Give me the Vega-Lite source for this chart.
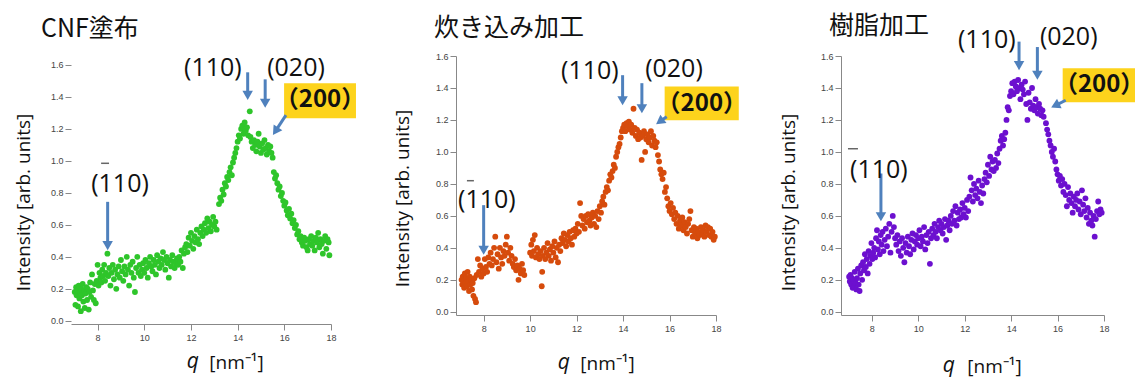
{
"$schema":"https://vega.github.io/schema/vega-lite/v6.json",
"padding":{"left":14,"top":13,"right":0,"bottom":0},
"bounds":"flush",
"spacing":125,
"datasets":{
"p1":[{"q":7.02,"I":0.18},{"q":7.05,"I":0.10},{"q":7.08,"I":0.21},{"q":7.10,"I":0.16},{"q":7.13,"I":0.19},{"q":7.16,"I":0.09},{"q":7.19,"I":0.22},{"q":7.22,"I":0.14},{"q":7.25,"I":0.18},{"q":7.28,"I":0.06},{"q":7.30,"I":0.20},{"q":7.33,"I":0.16},{"q":7.36,"I":0.23},{"q":7.39,"I":0.12},{"q":7.42,"I":0.19},{"q":7.45,"I":0.08},{"q":7.48,"I":0.17},{"q":7.52,"I":0.21},{"q":7.55,"I":0.13},{"q":7.58,"I":0.20},{"q":7.62,"I":0.07},{"q":7.65,"I":0.18},{"q":7.68,"I":0.24},{"q":7.72,"I":0.15},{"q":7.76,"I":0.29},{"q":7.80,"I":0.19},{"q":7.84,"I":0.13},{"q":7.88,"I":0.23},{"q":7.92,"I":0.11},{"q":7.96,"I":0.25},{"q":8.00,"I":0.35},{"q":8.04,"I":0.22},{"q":8.08,"I":0.30},{"q":8.12,"I":0.27},{"q":8.16,"I":0.24},{"q":8.20,"I":0.32},{"q":8.24,"I":0.28},{"q":8.28,"I":0.35},{"q":8.32,"I":0.25},{"q":8.36,"I":0.30},{"q":8.42,"I":0.42},{"q":8.46,"I":0.28},{"q":8.50,"I":0.33},{"q":8.55,"I":0.22},{"q":8.60,"I":0.30},{"q":8.65,"I":0.35},{"q":8.70,"I":0.26},{"q":8.75,"I":0.32},{"q":8.80,"I":0.20},{"q":8.85,"I":0.29},{"q":8.90,"I":0.34},{"q":8.95,"I":0.27},{"q":9.00,"I":0.38},{"q":9.05,"I":0.31},{"q":9.10,"I":0.25},{"q":9.15,"I":0.34},{"q":9.20,"I":0.29},{"q":9.25,"I":0.40},{"q":9.30,"I":0.32},{"q":9.35,"I":0.22},{"q":9.40,"I":0.35},{"q":9.45,"I":0.30},{"q":9.50,"I":0.37},{"q":9.55,"I":0.27},{"q":9.60,"I":0.18},{"q":9.65,"I":0.33},{"q":9.70,"I":0.40},{"q":9.75,"I":0.30},{"q":9.80,"I":0.35},{"q":9.85,"I":0.28},{"q":9.90,"I":0.32},{"q":9.95,"I":0.36},{"q":10.00,"I":0.30},{"q":10.05,"I":0.38},{"q":10.10,"I":0.33},{"q":10.15,"I":0.27},{"q":10.20,"I":0.36},{"q":10.25,"I":0.40},{"q":10.30,"I":0.34},{"q":10.35,"I":0.31},{"q":10.40,"I":0.38},{"q":10.45,"I":0.35},{"q":10.50,"I":0.29},{"q":10.55,"I":0.41},{"q":10.60,"I":0.37},{"q":10.65,"I":0.33},{"q":10.70,"I":0.39},{"q":10.75,"I":0.35},{"q":10.80,"I":0.43},{"q":10.85,"I":0.38},{"q":10.90,"I":0.32},{"q":10.95,"I":0.40},{"q":11.00,"I":0.36},{"q":11.05,"I":0.27},{"q":11.10,"I":0.38},{"q":11.15,"I":0.34},{"q":11.20,"I":0.41},{"q":11.25,"I":0.37},{"q":11.30,"I":0.33},{"q":11.35,"I":0.36},{"q":11.40,"I":0.39},{"q":11.45,"I":0.35},{"q":11.50,"I":0.40},{"q":11.55,"I":0.37},{"q":11.60,"I":0.44},{"q":11.65,"I":0.33},{"q":11.70,"I":0.42},{"q":11.75,"I":0.46},{"q":11.80,"I":0.48},{"q":11.85,"I":0.43},{"q":11.90,"I":0.52},{"q":11.95,"I":0.47},{"q":12.00,"I":0.55},{"q":12.05,"I":0.50},{"q":12.10,"I":0.45},{"q":12.15,"I":0.53},{"q":12.20,"I":0.49},{"q":12.25,"I":0.57},{"q":12.30,"I":0.51},{"q":12.35,"I":0.48},{"q":12.40,"I":0.55},{"q":12.45,"I":0.59},{"q":12.50,"I":0.53},{"q":12.55,"I":0.57},{"q":12.60,"I":0.61},{"q":12.65,"I":0.55},{"q":12.70,"I":0.64},{"q":12.75,"I":0.58},{"q":12.80,"I":0.62},{"q":12.85,"I":0.56},{"q":12.90,"I":0.60},{"q":12.95,"I":0.65},{"q":13.00,"I":0.59},{"q":13.05,"I":0.62},{"q":13.10,"I":0.57},{"q":13.20,"I":0.73},{"q":13.25,"I":0.77},{"q":13.30,"I":0.75},{"q":13.35,"I":0.82},{"q":13.40,"I":0.79},{"q":13.45,"I":0.86},{"q":13.50,"I":0.84},{"q":13.55,"I":0.90},{"q":13.60,"I":0.88},{"q":13.65,"I":0.93},{"q":13.70,"I":0.96},{"q":13.75,"I":0.91},{"q":13.80,"I":0.99},{"q":13.85,"I":1.02},{"q":13.90,"I":1.05},{"q":13.95,"I":1.08},{"q":14.00,"I":1.12},{"q":14.05,"I":1.16},{"q":14.10,"I":1.14},{"q":14.15,"I":1.20},{"q":14.20,"I":1.22},{"q":14.25,"I":1.17},{"q":14.30,"I":1.24},{"q":14.35,"I":1.19},{"q":14.40,"I":1.21},{"q":14.45,"I":1.16},{"q":14.52,"I":1.31},{"q":14.55,"I":1.15},{"q":14.60,"I":1.12},{"q":14.65,"I":1.08},{"q":14.70,"I":1.13},{"q":14.75,"I":1.10},{"q":14.80,"I":1.06},{"q":14.85,"I":1.12},{"q":14.90,"I":1.17},{"q":14.95,"I":1.09},{"q":15.00,"I":1.05},{"q":15.05,"I":1.11},{"q":15.10,"I":1.07},{"q":15.15,"I":1.13},{"q":15.20,"I":1.08},{"q":15.25,"I":1.04},{"q":15.30,"I":1.10},{"q":15.35,"I":1.06},{"q":15.40,"I":1.09},{"q":15.45,"I":1.05},{"q":15.50,"I":1.02},{"q":15.55,"I":0.93},{"q":15.60,"I":0.89},{"q":15.65,"I":0.91},{"q":15.70,"I":0.86},{"q":15.75,"I":0.82},{"q":15.80,"I":0.84},{"q":15.85,"I":0.78},{"q":15.90,"I":0.80},{"q":15.95,"I":0.75},{"q":16.00,"I":0.72},{"q":16.05,"I":0.74},{"q":16.10,"I":0.69},{"q":16.15,"I":0.66},{"q":16.20,"I":0.70},{"q":16.25,"I":0.64},{"q":16.30,"I":0.67},{"q":16.35,"I":0.61},{"q":16.40,"I":0.63},{"q":16.45,"I":0.58},{"q":16.50,"I":0.60},{"q":16.55,"I":0.54},{"q":16.60,"I":0.56},{"q":16.65,"I":0.51},{"q":16.70,"I":0.53},{"q":16.75,"I":0.49},{"q":16.80,"I":0.47},{"q":16.85,"I":0.52},{"q":16.90,"I":0.50},{"q":16.95,"I":0.46},{"q":17.00,"I":0.44},{"q":17.05,"I":0.51},{"q":17.10,"I":0.48},{"q":17.15,"I":0.53},{"q":17.20,"I":0.47},{"q":17.25,"I":0.50},{"q":17.30,"I":0.44},{"q":17.35,"I":0.52},{"q":17.40,"I":0.49},{"q":17.45,"I":0.55},{"q":17.50,"I":0.46},{"q":17.55,"I":0.51},{"q":17.60,"I":0.48},{"q":17.65,"I":0.42},{"q":17.70,"I":0.50},{"q":17.75,"I":0.53},{"q":17.80,"I":0.45},{"q":17.85,"I":0.51},{"q":17.90,"I":0.49},{"q":17.93,"I":0.41}],
"p2":[{"q":7.05,"I":0.20},{"q":7.08,"I":0.17},{"q":7.10,"I":0.22},{"q":7.13,"I":0.19},{"q":7.16,"I":0.15},{"q":7.19,"I":0.24},{"q":7.22,"I":0.18},{"q":7.25,"I":0.21},{"q":7.28,"I":0.16},{"q":7.31,"I":0.25},{"q":7.34,"I":0.19},{"q":7.37,"I":0.13},{"q":7.40,"I":0.22},{"q":7.43,"I":0.17},{"q":7.46,"I":0.20},{"q":7.50,"I":0.14},{"q":7.53,"I":0.18},{"q":7.56,"I":0.10},{"q":7.60,"I":0.21},{"q":7.63,"I":0.08},{"q":7.67,"I":0.06},{"q":7.70,"I":0.23},{"q":7.75,"I":0.33},{"q":7.80,"I":0.25},{"q":7.85,"I":0.29},{"q":7.90,"I":0.22},{"q":7.95,"I":0.27},{"q":8.00,"I":0.24},{"q":8.05,"I":0.33},{"q":8.10,"I":0.28},{"q":8.15,"I":0.25},{"q":8.20,"I":0.34},{"q":8.25,"I":0.30},{"q":8.30,"I":0.37},{"q":8.35,"I":0.29},{"q":8.40,"I":0.33},{"q":8.45,"I":0.40},{"q":8.50,"I":0.47},{"q":8.55,"I":0.31},{"q":8.60,"I":0.36},{"q":8.65,"I":0.27},{"q":8.70,"I":0.40},{"q":8.75,"I":0.34},{"q":8.80,"I":0.30},{"q":8.85,"I":0.38},{"q":8.90,"I":0.35},{"q":8.95,"I":0.42},{"q":9.00,"I":0.47},{"q":9.05,"I":0.37},{"q":9.10,"I":0.32},{"q":9.15,"I":0.40},{"q":9.20,"I":0.35},{"q":9.25,"I":0.30},{"q":9.30,"I":0.28},{"q":9.35,"I":0.33},{"q":9.40,"I":0.26},{"q":9.45,"I":0.29},{"q":9.50,"I":0.20},{"q":9.55,"I":0.27},{"q":9.60,"I":0.24},{"q":9.65,"I":0.30},{"q":9.70,"I":0.26},{"q":9.75,"I":0.23},{"q":10.00,"I":0.37},{"q":10.05,"I":0.42},{"q":10.08,"I":0.35},{"q":10.12,"I":0.45},{"q":10.16,"I":0.38},{"q":10.20,"I":0.48},{"q":10.25,"I":0.34},{"q":10.30,"I":0.40},{"q":10.35,"I":0.36},{"q":10.40,"I":0.33},{"q":10.45,"I":0.38},{"q":10.50,"I":0.16},{"q":10.52,"I":0.25},{"q":10.55,"I":0.35},{"q":10.60,"I":0.40},{"q":10.65,"I":0.33},{"q":10.70,"I":0.37},{"q":10.75,"I":0.43},{"q":10.80,"I":0.35},{"q":10.85,"I":0.39},{"q":10.90,"I":0.32},{"q":10.95,"I":0.41},{"q":11.00,"I":0.37},{"q":11.05,"I":0.44},{"q":11.10,"I":0.34},{"q":11.15,"I":0.40},{"q":11.20,"I":0.31},{"q":11.25,"I":0.42},{"q":11.30,"I":0.38},{"q":11.35,"I":0.46},{"q":11.40,"I":0.43},{"q":11.45,"I":0.49},{"q":11.50,"I":0.45},{"q":11.55,"I":0.41},{"q":11.60,"I":0.48},{"q":11.65,"I":0.44},{"q":11.70,"I":0.50},{"q":11.75,"I":0.46},{"q":11.80,"I":0.42},{"q":11.85,"I":0.51},{"q":11.90,"I":0.47},{"q":11.95,"I":0.52},{"q":12.00,"I":0.49},{"q":12.05,"I":0.55},{"q":12.10,"I":0.50},{"q":12.15,"I":0.68},{"q":12.20,"I":0.60},{"q":12.25,"I":0.54},{"q":12.30,"I":0.58},{"q":12.35,"I":0.52},{"q":12.40,"I":0.60},{"q":12.45,"I":0.56},{"q":12.50,"I":0.61},{"q":12.55,"I":0.57},{"q":12.60,"I":0.54},{"q":12.65,"I":0.59},{"q":12.70,"I":0.62},{"q":12.75,"I":0.55},{"q":12.80,"I":0.60},{"q":12.85,"I":0.53},{"q":12.90,"I":0.63},{"q":12.95,"I":0.58},{"q":13.00,"I":0.66},{"q":13.05,"I":0.62},{"q":13.10,"I":0.69},{"q":13.15,"I":0.72},{"q":13.20,"I":0.67},{"q":13.25,"I":0.75},{"q":13.30,"I":0.78},{"q":13.35,"I":0.76},{"q":13.40,"I":0.82},{"q":13.45,"I":0.86},{"q":13.50,"I":0.84},{"q":13.55,"I":0.88},{"q":13.60,"I":0.92},{"q":13.65,"I":0.90},{"q":13.70,"I":0.97},{"q":13.75,"I":1.00},{"q":13.80,"I":1.03},{"q":13.85,"I":1.05},{"q":13.90,"I":1.09},{"q":13.95,"I":1.13},{"q":14.00,"I":1.15},{"q":14.05,"I":1.17},{"q":14.10,"I":1.13},{"q":14.15,"I":1.18},{"q":14.20,"I":1.16},{"q":14.25,"I":1.19},{"q":14.30,"I":1.14},{"q":14.35,"I":1.17},{"q":14.40,"I":1.12},{"q":14.45,"I":1.27},{"q":14.50,"I":1.15},{"q":14.55,"I":1.10},{"q":14.60,"I":1.14},{"q":14.65,"I":1.08},{"q":14.70,"I":1.12},{"q":14.75,"I":1.09},{"q":14.80,"I":0.95},{"q":14.85,"I":1.10},{"q":14.90,"I":1.13},{"q":14.95,"I":1.00},{"q":15.00,"I":1.08},{"q":15.05,"I":1.11},{"q":15.10,"I":1.06},{"q":15.15,"I":1.09},{"q":15.20,"I":1.13},{"q":15.25,"I":1.04},{"q":15.30,"I":1.10},{"q":15.35,"I":1.07},{"q":15.40,"I":1.03},{"q":15.45,"I":1.06},{"q":15.50,"I":0.98},{"q":15.55,"I":0.94},{"q":15.60,"I":0.89},{"q":15.65,"I":0.86},{"q":15.70,"I":0.83},{"q":15.75,"I":0.87},{"q":15.80,"I":0.75},{"q":15.85,"I":0.78},{"q":15.90,"I":0.71},{"q":15.95,"I":0.66},{"q":16.00,"I":0.63},{"q":16.05,"I":0.68},{"q":16.10,"I":0.61},{"q":16.15,"I":0.65},{"q":16.20,"I":0.58},{"q":16.25,"I":0.62},{"q":16.30,"I":0.55},{"q":16.35,"I":0.60},{"q":16.40,"I":0.52},{"q":16.45,"I":0.57},{"q":16.50,"I":0.54},{"q":16.55,"I":0.59},{"q":16.60,"I":0.51},{"q":16.65,"I":0.56},{"q":16.70,"I":0.53},{"q":16.75,"I":0.49},{"q":16.80,"I":0.55},{"q":16.85,"I":0.58},{"q":16.90,"I":0.63},{"q":16.95,"I":0.51},{"q":17.00,"I":0.47},{"q":17.05,"I":0.53},{"q":17.10,"I":0.49},{"q":17.15,"I":0.52},{"q":17.20,"I":0.46},{"q":17.25,"I":0.50},{"q":17.30,"I":0.48},{"q":17.35,"I":0.53},{"q":17.40,"I":0.49},{"q":17.45,"I":0.51},{"q":17.50,"I":0.47},{"q":17.55,"I":0.54},{"q":17.60,"I":0.50},{"q":17.65,"I":0.53},{"q":17.70,"I":0.48},{"q":17.75,"I":0.52},{"q":17.80,"I":0.47},{"q":17.85,"I":0.50},{"q":17.90,"I":0.45},{"q":17.95,"I":0.47}],
"p3":[{"q":7.02,"I":0.22},{"q":7.05,"I":0.19},{"q":7.08,"I":0.23},{"q":7.11,"I":0.17},{"q":7.14,"I":0.21},{"q":7.17,"I":0.15},{"q":7.20,"I":0.20},{"q":7.23,"I":0.16},{"q":7.26,"I":0.25},{"q":7.30,"I":0.18},{"q":7.33,"I":0.14},{"q":7.36,"I":0.21},{"q":7.40,"I":0.27},{"q":7.43,"I":0.17},{"q":7.47,"I":0.13},{"q":7.50,"I":0.24},{"q":7.54,"I":0.29},{"q":7.58,"I":0.20},{"q":7.62,"I":0.31},{"q":7.66,"I":0.26},{"q":7.70,"I":0.36},{"q":7.74,"I":0.28},{"q":7.78,"I":0.33},{"q":7.82,"I":0.24},{"q":7.86,"I":0.38},{"q":7.90,"I":0.30},{"q":7.94,"I":0.35},{"q":7.98,"I":0.43},{"q":8.02,"I":0.33},{"q":8.06,"I":0.37},{"q":8.10,"I":0.40},{"q":8.14,"I":0.34},{"q":8.18,"I":0.46},{"q":8.22,"I":0.51},{"q":8.26,"I":0.39},{"q":8.30,"I":0.44},{"q":8.34,"I":0.36},{"q":8.38,"I":0.48},{"q":8.42,"I":0.42},{"q":8.46,"I":0.50},{"q":8.50,"I":0.38},{"q":8.55,"I":0.45},{"q":8.60,"I":0.52},{"q":8.65,"I":0.41},{"q":8.70,"I":0.47},{"q":8.75,"I":0.55},{"q":8.80,"I":0.37},{"q":8.85,"I":0.50},{"q":8.90,"I":0.60},{"q":8.95,"I":0.53},{"q":9.00,"I":0.46},{"q":9.05,"I":0.42},{"q":9.10,"I":0.48},{"q":9.15,"I":0.38},{"q":9.20,"I":0.44},{"q":9.25,"I":0.35},{"q":9.30,"I":0.46},{"q":9.35,"I":0.40},{"q":9.40,"I":0.31},{"q":9.45,"I":0.43},{"q":9.50,"I":0.37},{"q":9.55,"I":0.47},{"q":9.60,"I":0.41},{"q":9.65,"I":0.36},{"q":9.70,"I":0.45},{"q":9.75,"I":0.49},{"q":9.80,"I":0.39},{"q":9.85,"I":0.44},{"q":9.90,"I":0.48},{"q":9.95,"I":0.42},{"q":10.00,"I":0.46},{"q":10.05,"I":0.51},{"q":10.10,"I":0.41},{"q":10.15,"I":0.47},{"q":10.20,"I":0.44},{"q":10.25,"I":0.53},{"q":10.30,"I":0.39},{"q":10.35,"I":0.48},{"q":10.40,"I":0.43},{"q":10.45,"I":0.50},{"q":10.50,"I":0.30},{"q":10.55,"I":0.46},{"q":10.60,"I":0.52},{"q":10.65,"I":0.48},{"q":10.70,"I":0.55},{"q":10.75,"I":0.50},{"q":10.80,"I":0.46},{"q":10.85,"I":0.53},{"q":10.90,"I":0.57},{"q":10.95,"I":0.51},{"q":11.00,"I":0.55},{"q":11.05,"I":0.49},{"q":11.10,"I":0.53},{"q":11.15,"I":0.58},{"q":11.20,"I":0.45},{"q":11.25,"I":0.54},{"q":11.30,"I":0.57},{"q":11.35,"I":0.51},{"q":11.40,"I":0.60},{"q":11.45,"I":0.55},{"q":11.50,"I":0.63},{"q":11.55,"I":0.57},{"q":11.60,"I":0.66},{"q":11.65,"I":0.54},{"q":11.70,"I":0.62},{"q":11.75,"I":0.58},{"q":11.80,"I":0.64},{"q":11.85,"I":0.59},{"q":11.90,"I":0.68},{"q":11.95,"I":0.61},{"q":12.00,"I":0.65},{"q":12.05,"I":0.59},{"q":12.10,"I":0.70},{"q":12.15,"I":0.63},{"q":12.20,"I":0.72},{"q":12.25,"I":0.84},{"q":12.30,"I":0.76},{"q":12.35,"I":0.69},{"q":12.40,"I":0.80},{"q":12.45,"I":0.73},{"q":12.50,"I":0.77},{"q":12.55,"I":0.71},{"q":12.60,"I":0.82},{"q":12.65,"I":0.75},{"q":12.70,"I":0.68},{"q":12.75,"I":0.79},{"q":12.80,"I":0.74},{"q":12.85,"I":0.83},{"q":12.90,"I":0.87},{"q":12.95,"I":0.81},{"q":13.00,"I":0.92},{"q":13.05,"I":0.85},{"q":13.10,"I":0.97},{"q":13.15,"I":0.89},{"q":13.20,"I":0.94},{"q":13.25,"I":0.88},{"q":13.30,"I":0.95},{"q":13.35,"I":0.90},{"q":13.40,"I":0.99},{"q":13.45,"I":0.93},{"q":13.50,"I":1.02},{"q":13.55,"I":1.07},{"q":13.60,"I":1.10},{"q":13.65,"I":1.04},{"q":13.70,"I":1.08},{"q":13.75,"I":1.12},{"q":13.80,"I":1.20},{"q":13.85,"I":1.28},{"q":13.90,"I":1.26},{"q":13.95,"I":1.35},{"q":14.00,"I":1.38},{"q":14.05,"I":1.43},{"q":14.10,"I":1.36},{"q":14.15,"I":1.44},{"q":14.20,"I":1.41},{"q":14.25,"I":1.38},{"q":14.30,"I":1.45},{"q":14.35,"I":1.40},{"q":14.40,"I":1.33},{"q":14.45,"I":1.42},{"q":14.50,"I":1.39},{"q":14.55,"I":1.36},{"q":14.60,"I":1.44},{"q":14.65,"I":1.30},{"q":14.70,"I":1.20},{"q":14.75,"I":1.37},{"q":14.80,"I":1.31},{"q":14.85,"I":1.27},{"q":14.90,"I":1.40},{"q":14.95,"I":1.29},{"q":15.00,"I":1.26},{"q":15.05,"I":1.33},{"q":15.10,"I":1.28},{"q":15.15,"I":1.24},{"q":15.20,"I":1.30},{"q":15.25,"I":1.27},{"q":15.30,"I":1.23},{"q":15.35,"I":1.26},{"q":15.40,"I":1.22},{"q":15.50,"I":1.18},{"q":15.55,"I":1.14},{"q":15.60,"I":1.11},{"q":15.65,"I":1.07},{"q":15.70,"I":1.04},{"q":15.75,"I":1.00},{"q":15.80,"I":0.97},{"q":15.85,"I":1.02},{"q":15.90,"I":0.94},{"q":15.95,"I":0.89},{"q":16.00,"I":0.86},{"q":16.05,"I":0.82},{"q":16.10,"I":0.85},{"q":16.15,"I":0.79},{"q":16.20,"I":0.83},{"q":16.25,"I":0.75},{"q":16.30,"I":0.80},{"q":16.35,"I":0.73},{"q":16.40,"I":0.66},{"q":16.45,"I":0.78},{"q":16.50,"I":0.70},{"q":16.55,"I":0.74},{"q":16.60,"I":0.68},{"q":16.65,"I":0.62},{"q":16.70,"I":0.72},{"q":16.75,"I":0.66},{"q":16.80,"I":0.70},{"q":16.85,"I":0.74},{"q":16.90,"I":0.64},{"q":16.95,"I":0.69},{"q":17.00,"I":0.61},{"q":17.05,"I":0.76},{"q":17.10,"I":0.67},{"q":17.15,"I":0.63},{"q":17.20,"I":0.71},{"q":17.25,"I":0.59},{"q":17.30,"I":0.65},{"q":17.35,"I":0.55},{"q":17.40,"I":0.62},{"q":17.45,"I":0.57},{"q":17.50,"I":0.54},{"q":17.55,"I":0.60},{"q":17.60,"I":0.47},{"q":17.65,"I":0.58},{"q":17.70,"I":0.63},{"q":17.75,"I":0.69},{"q":17.80,"I":0.61},{"q":17.85,"I":0.64},{"q":17.90,"I":0.62}],
"a1":[{"kind":"label","q":12.94,"I":1.58,"text":"(110)"},{"kind":"label","q":16.5,"I":1.58,"text":"(020)"},{"kind":"label","q":8.96,"I":0.854,"text":"(110)"},{"kind":"bar","q":8.15,"q2":8.49,"I":0.985},{"kind":"arrow","q":14.43,"I":1.554,"q2":14.43,"I2":1.41},{"kind":"arrow","q":15.18,"I":1.51,"q2":15.18,"I2":1.36},{"kind":"arrow","q":8.43,"I":0.744,"q2":8.43,"I2":0.47},{"kind":"diag","q":16.07,"I":1.286,"q2":15.62,"I2":1.186},{"kind":"box","q":15.99,"q2":19.07,"I":1.267,"I2":1.486},{"kind":"boxlabel","q":17.53,"I":1.379,"text":"（200）"},{"kind":"xq","q":12.08,"I":-0.258,"text":"q"}],
"a2":[{"kind":"label","q":12.57,"I":1.504,"text":"(110)"},{"kind":"label","q":16.19,"I":1.52,"text":"(020)"},{"kind":"label","q":8.14,"I":0.698,"text":"(110)"},{"kind":"bar","q":7.28,"q2":7.58,"I":0.82},{"kind":"arrow","q":13.98,"I":1.48,"q2":13.98,"I2":1.32},{"kind":"arrow","q":14.81,"I":1.43,"q2":14.81,"I2":1.27},{"kind":"arrow","q":8.0,"I":0.667,"q2":8.0,"I2":0.385},{"kind":"diag","q":15.88,"I":1.22,"q2":15.58,"I2":1.19},{"kind":"box","q":15.79,"q2":18.98,"I":1.198,"I2":1.41},{"kind":"boxlabel","q":17.39,"I":1.30,"text":"（200）"},{"kind":"xq","q":11.45,"I":-0.32,"text":"q"}],
"a3":[{"kind":"label","q":12.95,"I":1.70,"text":"(110)"},{"kind":"label","q":16.48,"I":1.72,"text":"(020)"},{"kind":"label","q":8.3,"I":0.886,"text":"(110)"},{"kind":"bar","q":6.97,"q2":7.4,"I":1.02},{"kind":"arrow","q":14.34,"I":1.69,"q2":14.34,"I2":1.54},{"kind":"arrow","q":15.13,"I":1.656,"q2":15.13,"I2":1.48},{"kind":"arrow","q":8.39,"I":0.865,"q2":8.39,"I2":0.595},{"kind":"diag","q":16.35,"I":1.323,"q2":15.9,"I2":1.29},{"kind":"box","q":16.22,"q2":19.36,"I":1.31,"I2":1.523},{"kind":"boxlabel","q":17.79,"I":1.417,"text":"（200）"},{"kind":"xq","q":11.31,"I":-0.34,"text":"q"}]
},
"hconcat":[
{"width":260,"height":268,
 "title":{"text":"CNF塗布","dx":-30,"offset":14},
 "layer":[
  {"data":{"name":"p1"},"mark":{"type":"circle","color":"#2ec52a","size":34,"opacity":1},
   "encoding":{"x":{"field":"q","type":"quantitative","scale":{"domain":[6.86,18],"nice":false,"zero":false},"axis":{"values":[8,10,12,14,16,18],"tickCount":10,"format":"d","title":"[nm⁻¹]","titleX":165,"titleY":38}},
   "y":{"field":"I","type":"quantitative","scale":{"domain":[-0.02,1.656],"nice":false,"zero":false},"axis":{"values":[0,0.2,0.4,0.6,0.8,1.0,1.2,1.4,1.6],"tickCount":12,"format":".1f","labelOverlap":false,"title":"Intensity [arb. units]","titleX":-48,"titleY":146,"domain":false}}}},
  {"mark":{"type":"rule","color":"#888","strokeWidth":1},"encoding":{"x":{"datum":6.86,"type":"quantitative"},"y":{"datum":-0.02,"type":"quantitative"},"y2":{"datum":1.6}}},
  {"data":{"name":"a1"},"transform":[{"filter":"datum.kind == 'box'"}],"mark":{"type":"rect","color":"#fdd31c"},"encoding":{"x":{"field":"q","type":"quantitative"},"x2":{"field":"q2"},"y":{"field":"I","type":"quantitative"},"y2":{"field":"I2"}}},
  {"data":{"name":"a1"},"transform":[{"filter":"datum.kind == 'boxlabel'"}],"mark":{"type":"text","font":"Noto Sans CJK JP","fontWeight":"bold","fontSize":24,"color":"#111","align":"center","baseline":"middle"},"encoding":{"x":{"field":"q","type":"quantitative"},"y":{"field":"I","type":"quantitative"},"text":{"field":"text"}}},
  {"data":{"name":"a1"},"transform":[{"filter":"datum.kind == 'arrow' || datum.kind == 'diag'"}],"mark":{"type":"rule","color":"#4f81bd","strokeWidth":3},"encoding":{"x":{"field":"q","type":"quantitative"},"x2":{"field":"q2"},"y":{"field":"I","type":"quantitative"},"y2":{"field":"I2"}}},
  {"data":{"name":"a1"},"transform":[{"filter":"datum.kind == 'arrow'"}],"mark":{"type":"point","shape":"triangle-down","filled":true,"color":"#4f81bd","size":110,"opacity":1},"encoding":{"x":{"field":"q2","type":"quantitative"},"y":{"field":"I2","type":"quantitative"}}},
  {"data":{"name":"a1"},"transform":[{"filter":"datum.kind == 'diag'"}],"mark":{"type":"point","shape":"triangle-down","filled":true,"color":"#4f81bd","size":110,"opacity":1,"angle":34},"encoding":{"x":{"field":"q2","type":"quantitative"},"y":{"field":"I2","type":"quantitative"}}},
  {"data":{"name":"a1"},"transform":[{"filter":"datum.kind == 'label'"}],"mark":{"type":"text","font":"Open Sans","fontSize":25,"color":"#111","align":"center","baseline":"middle"},"encoding":{"x":{"field":"q","type":"quantitative"},"y":{"field":"I","type":"quantitative"},"text":{"field":"text"}}},
  {"data":{"name":"a1"},"transform":[{"filter":"datum.kind == 'bar'"}],"mark":{"type":"rule","color":"#666","strokeWidth":1.5},"encoding":{"x":{"field":"q","type":"quantitative"},"x2":{"field":"q2"},"y":{"field":"I","type":"quantitative"}}},
  {"data":{"name":"a1"},"transform":[{"filter":"datum.kind == 'xq'"}],"mark":{"type":"text","font":"Open Sans","fontSize":21,"fontStyle":"italic","color":"#111","align":"center","baseline":"middle"},"encoding":{"x":{"field":"q","type":"quantitative"},"y":{"field":"I","type":"quantitative"},"text":{"field":"text"}}}
 ]},
{"width":260,"height":259,
 "title":{"text":"炊き込み加工","dx":-22,"offset":11},
 "layer":[
  {"data":{"name":"p2"},"mark":{"type":"circle","color":"#d64b0c","size":34,"opacity":1},
   "encoding":{"x":{"field":"q","type":"quantitative","scale":{"domain":[6.81,18],"nice":false,"zero":false},"axis":{"values":[8,10,12,14,16,18],"tickCount":10,"format":"d","title":"[nm⁻¹]","titleX":151,"titleY":48}},
   "y":{"field":"I","type":"quantitative","scale":{"domain":[-0.02,1.6],"nice":false,"zero":false},"axis":{"values":[0,0.2,0.4,0.6,0.8,1.0,1.2,1.4,1.6],"tickCount":12,"format":".1f","labelOverlap":false,"title":"Intensity [arb. units]","titleX":-54,"titleY":142}}}},
  {"data":{"name":"a2"},"transform":[{"filter":"datum.kind == 'box'"}],"mark":{"type":"rect","color":"#fdd31c"},"encoding":{"x":{"field":"q","type":"quantitative"},"x2":{"field":"q2"},"y":{"field":"I","type":"quantitative"},"y2":{"field":"I2"}}},
  {"data":{"name":"a2"},"transform":[{"filter":"datum.kind == 'boxlabel'"}],"mark":{"type":"text","font":"Noto Sans CJK JP","fontWeight":"bold","fontSize":24,"color":"#111","align":"center","baseline":"middle"},"encoding":{"x":{"field":"q","type":"quantitative"},"y":{"field":"I","type":"quantitative"},"text":{"field":"text"}}},
  {"data":{"name":"a2"},"transform":[{"filter":"datum.kind == 'arrow' || datum.kind == 'diag'"}],"mark":{"type":"rule","color":"#4f81bd","strokeWidth":3},"encoding":{"x":{"field":"q","type":"quantitative"},"x2":{"field":"q2"},"y":{"field":"I","type":"quantitative"},"y2":{"field":"I2"}}},
  {"data":{"name":"a2"},"transform":[{"filter":"datum.kind == 'arrow'"}],"mark":{"type":"point","shape":"triangle-down","filled":true,"color":"#4f81bd","size":110,"opacity":1},"encoding":{"x":{"field":"q2","type":"quantitative"},"y":{"field":"I2","type":"quantitative"}}},
  {"data":{"name":"a2"},"transform":[{"filter":"datum.kind == 'diag'"}],"mark":{"type":"point","shape":"triangle-down","filled":true,"color":"#4f81bd","size":110,"opacity":1,"angle":54},"encoding":{"x":{"field":"q2","type":"quantitative"},"y":{"field":"I2","type":"quantitative"}}},
  {"data":{"name":"a2"},"transform":[{"filter":"datum.kind == 'label'"}],"mark":{"type":"text","font":"Open Sans","fontSize":25,"color":"#111","align":"center","baseline":"middle"},"encoding":{"x":{"field":"q","type":"quantitative"},"y":{"field":"I","type":"quantitative"},"text":{"field":"text"}}},
  {"data":{"name":"a2"},"transform":[{"filter":"datum.kind == 'bar'"}],"mark":{"type":"rule","color":"#666","strokeWidth":1.5},"encoding":{"x":{"field":"q","type":"quantitative"},"x2":{"field":"q2"},"y":{"field":"I","type":"quantitative"}}},
  {"data":{"name":"a2"},"transform":[{"filter":"datum.kind == 'xq'"}],"mark":{"type":"text","font":"Open Sans","fontSize":21,"fontStyle":"italic","color":"#111","align":"center","baseline":"middle"},"encoding":{"x":{"field":"q","type":"quantitative"},"y":{"field":"I","type":"quantitative"},"text":{"field":"text"}}}
 ]},
{"width":263,"height":259,
 "title":{"text":"樹脂加工","dx":-12,"offset":-14},
 "layer":[
  {"data":{"name":"p3"},"mark":{"type":"circle","color":"#6c10cf","size":34,"opacity":1},
   "encoding":{"x":{"field":"q","type":"quantitative","scale":{"domain":[6.67,18],"nice":false,"zero":false},"axis":{"values":[8,10,12,14,16,18],"tickCount":10,"format":"d","title":"[nm⁻¹]","titleX":153,"titleY":51}},
   "y":{"field":"I","type":"quantitative","scale":{"domain":[-0.02,1.6],"nice":false,"zero":false},"axis":{"values":[0,0.2,0.4,0.6,0.8,1.0,1.2,1.4,1.6],"tickCount":12,"format":".1f","labelOverlap":false,"title":"Intensity [arb. units]","titleX":-53,"titleY":146}}}},
  {"data":{"name":"a3"},"transform":[{"filter":"datum.kind == 'box'"}],"mark":{"type":"rect","color":"#fdd31c"},"encoding":{"x":{"field":"q","type":"quantitative"},"x2":{"field":"q2"},"y":{"field":"I","type":"quantitative"},"y2":{"field":"I2"}}},
  {"data":{"name":"a3"},"transform":[{"filter":"datum.kind == 'boxlabel'"}],"mark":{"type":"text","font":"Noto Sans CJK JP","fontWeight":"bold","fontSize":24,"color":"#111","align":"center","baseline":"middle"},"encoding":{"x":{"field":"q","type":"quantitative"},"y":{"field":"I","type":"quantitative"},"text":{"field":"text"}}},
  {"data":{"name":"a3"},"transform":[{"filter":"datum.kind == 'arrow' || datum.kind == 'diag'"}],"mark":{"type":"rule","color":"#4f81bd","strokeWidth":3},"encoding":{"x":{"field":"q","type":"quantitative"},"x2":{"field":"q2"},"y":{"field":"I","type":"quantitative"},"y2":{"field":"I2"}}},
  {"data":{"name":"a3"},"transform":[{"filter":"datum.kind == 'arrow'"}],"mark":{"type":"point","shape":"triangle-down","filled":true,"color":"#4f81bd","size":110,"opacity":1},"encoding":{"x":{"field":"q2","type":"quantitative"},"y":{"field":"I2","type":"quantitative"}}},
  {"data":{"name":"a3"},"transform":[{"filter":"datum.kind == 'diag'"}],"mark":{"type":"point","shape":"triangle-down","filled":true,"color":"#4f81bd","size":110,"opacity":1,"angle":64},"encoding":{"x":{"field":"q2","type":"quantitative"},"y":{"field":"I2","type":"quantitative"}}},
  {"data":{"name":"a3"},"transform":[{"filter":"datum.kind == 'label'"}],"mark":{"type":"text","font":"Open Sans","fontSize":25,"color":"#111","align":"center","baseline":"middle"},"encoding":{"x":{"field":"q","type":"quantitative"},"y":{"field":"I","type":"quantitative"},"text":{"field":"text"}}},
  {"data":{"name":"a3"},"transform":[{"filter":"datum.kind == 'bar'"}],"mark":{"type":"rule","color":"#666","strokeWidth":1.5},"encoding":{"x":{"field":"q","type":"quantitative"},"x2":{"field":"q2"},"y":{"field":"I","type":"quantitative"}}},
  {"data":{"name":"a3"},"transform":[{"filter":"datum.kind == 'xq'"}],"mark":{"type":"text","font":"Open Sans","fontSize":21,"fontStyle":"italic","color":"#111","align":"center","baseline":"middle"},"encoding":{"x":{"field":"q","type":"quantitative"},"y":{"field":"I","type":"quantitative"},"text":{"field":"text"}}}
 ]}
],
"config":{
 "view":{"stroke":null},
 "axis":{"domainColor":"#888","tickColor":"#888","tickSize":6,"labelFont":"Liberation Sans","labelFontSize":9,"labelColor":"#444","grid":false,"labelOverlap":false,"labelFlush":false,"titleFont":"Open Sans","titleFontSize":19,"titleFontWeight":"normal","titleColor":"#111"},
 "axisX":{"labelPadding":3,"titleBaseline":"middle","titleAlign":"center"},
 "axisY":{"labelPadding":2,"titleBaseline":"middle","titleAlign":"center","titleAngle":-90},
 "title":{"font":"Noto Sans CJK JP","fontSize":25,"fontWeight":"normal","color":"#111","anchor":"start","frame":"group"}
}
}
